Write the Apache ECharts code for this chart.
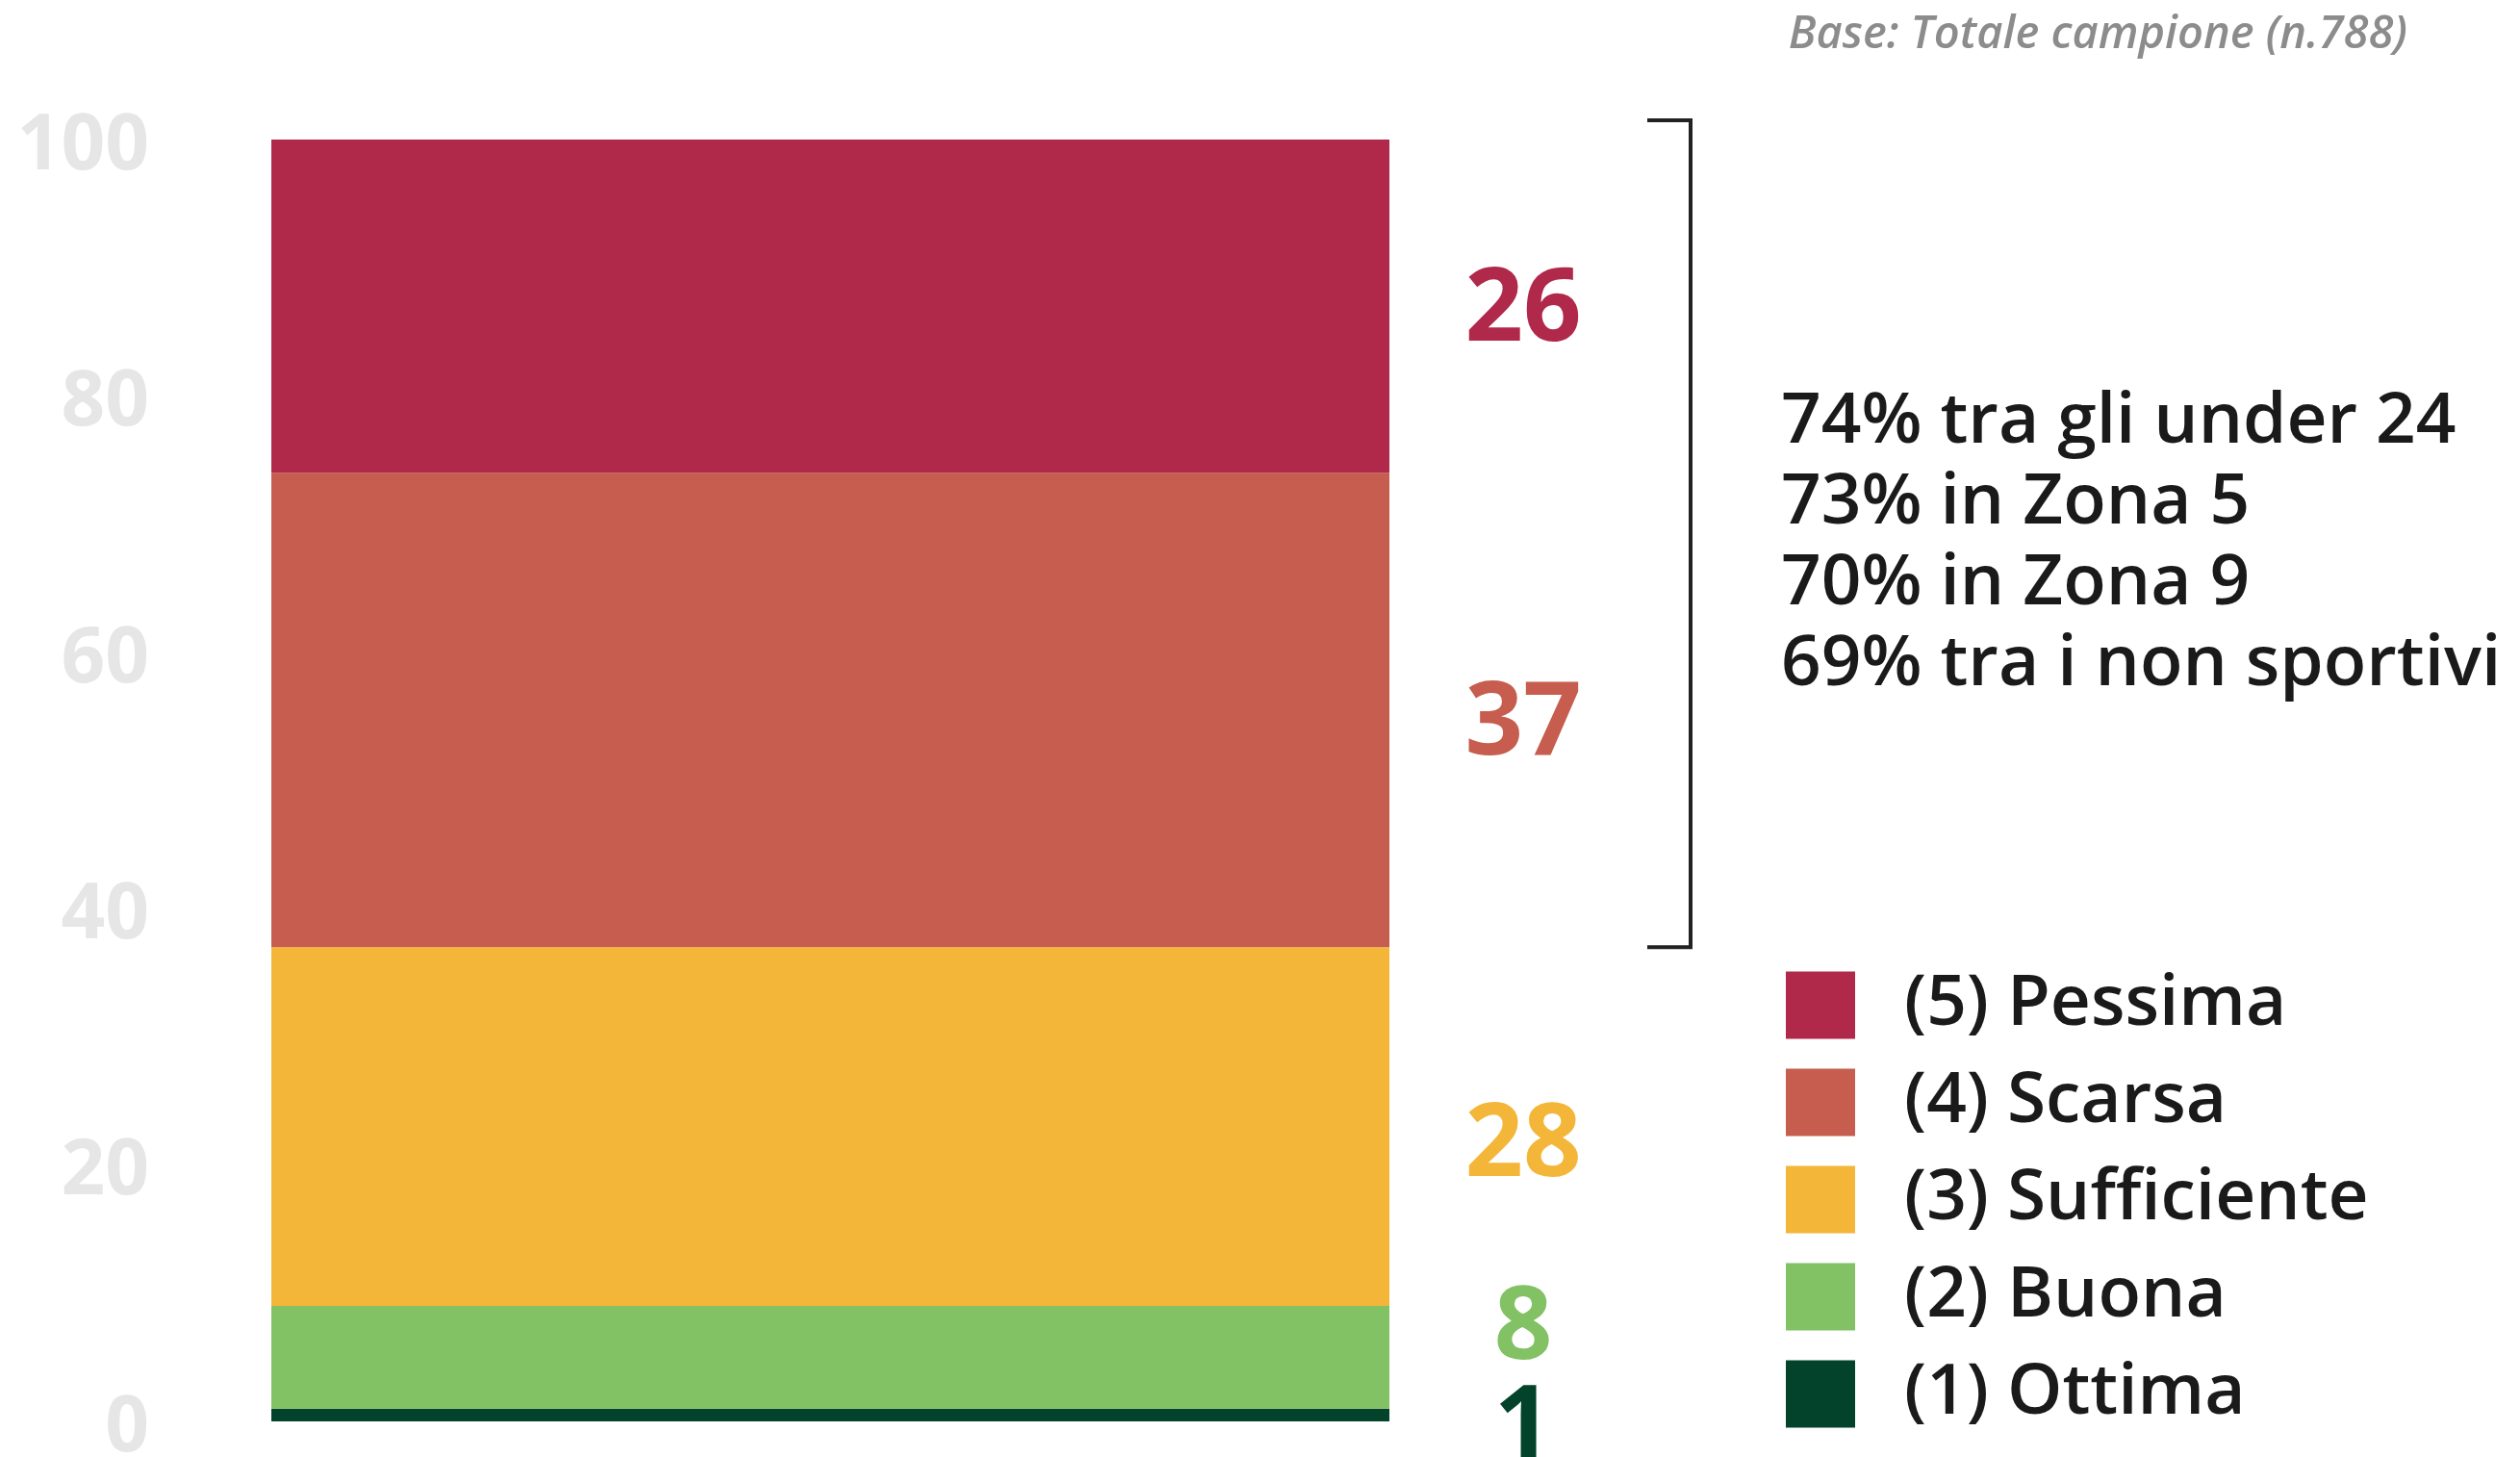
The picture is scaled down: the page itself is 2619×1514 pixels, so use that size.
<!DOCTYPE html>
<html>
<head>
<meta charset="utf-8">
<script src="https://cdn.jsdelivr.net/npm/echarts@6/dist/echarts.min.js"></script>
<style>
  html, body { margin: 0; padding: 0; background: #fff; }
  #chart { width: 2619px; height: 1514px; }
</style>
</head>
<body>
<div id="chart"></div>
<script>
// stacked from bottom to top
const categories = ['Totale'];
const seriesNames = ['(1) Ottima', '(2) Buona', '(3) Sufficiente', '(4) Scarsa', '(5) Pessima'];
const seriesValues = [1, 8, 28, 37, 26];
const seriesColors = ['#03432b', '#82c164', '#f3b638', '#c65d4e', '#b0284a'];
const labelShift = [14, -29, 21, 16, 6];
const legendOrder = ['(5) Pessima', '(4) Scarsa', '(3) Sufficiente', '(2) Buona', '(1) Ottima'];
const yTicks = [0, 20, 40, 60, 80, 100];
const notes = [
  '74% tra gli under 24',
  '73% in Zona 5',
  '70% in Zona 9',
  '69% tra i non sportivi'
];
const baseNote = 'Base: Totale campione (n.788)';
const bracketFrom = 37; // bracket covers Scarsa + Pessima

const FONT = '"Open Sans", "Noto Sans", sans-serif';
const chart = echarts.init(document.getElementById('chart'));

const series = seriesNames.map((name, i) => ({
  name: name,
  type: 'bar',
  stack: 'tot',
  barWidth: '100%',
  data: [seriesValues[i]],
  itemStyle: { color: seriesColors[i] },
  label: {
    show: true,
    position: [1301, '50%'],
    align: 'center',
    verticalAlign: 'middle',
    offset: [0, labelShift[i]],
    color: seriesColors[i],
    fontFamily: FONT,
    fontWeight: 'bold',
    fontSize: 106
  },
  emphasis: { disabled: true }
}));

chart.setOption({
  animation: false,
  backgroundColor: '#fff',
  grid: { left: 282, top: 145, width: 1162, height: 1332, outerBoundsMode: 'none' },
  xAxis: {
    type: 'category',
    data: categories,
    show: false
  },
  yAxis: {
    type: 'value',
    min: yTicks[0],
    max: yTicks[yTicks.length - 1],
    interval: 20,
    axisLine: { show: false },
    axisTick: { show: false },
    splitLine: { show: false },
    axisLabel: {
      margin: 127,
      formatter: '{t|{value}}',
      rich: {
        t: {
          padding: [16, 0, 0, 0],
          color: '#e6e6e6',
          fontFamily: FONT,
          fontWeight: 'bold',
          fontSize: 80
        }
      }
    }
  },
  legend: {
    orient: 'vertical',
    left: 1851,
    top: 1003,
    data: legendOrder,
    icon: 'rect',
    itemWidth: 72,
    itemHeight: 70,
    itemGap: 28,
    selectedMode: false,
    textStyle: {
      color: '#1a1a1a',
      fontFamily: FONT,
      fontWeight: 600,
      fontSize: 73,
      lineHeight: 70,
      padding: [0, 0, 0, 46]
    }
  },
  title: [
    {
      text: baseNote,
      right: 112,
      top: 8,
      textStyle: {
        color: '#8c8c8c',
        fontFamily: FONT,
        fontStyle: 'italic',
        fontWeight: 600,
        fontSize: 47
      }
    },
    {
      text: notes.join('\n'),
      left: 1846,
      top: 392,
      textStyle: {
        color: '#1a1a1a',
        fontFamily: FONT,
        fontWeight: 600,
        fontSize: 73,
        lineHeight: 84
      }
    }
  ],
  series: series
});

// bracket next to the top two segments
const yTop = chart.convertToPixel({ yAxisIndex: 0 }, 100) - 20;
const yBottom = chart.convertToPixel({ yAxisIndex: 0 }, bracketFrom);
chart.setOption({
  graphic: [{
    type: 'polyline',
    shape: { points: [[1712, yTop], [1757, yTop], [1757, yBottom], [1712, yBottom]] },
    style: { stroke: '#222', lineWidth: 4, fill: null }
  }]
});
</script>
</body>
</html>
